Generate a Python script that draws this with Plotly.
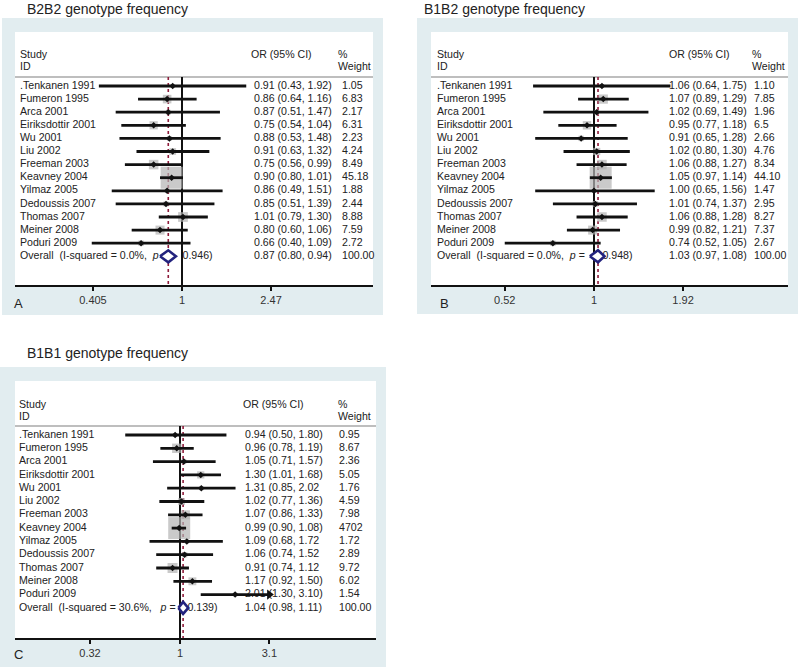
import math
import plotly.graph_objects as go

# ---------------- data ----------------
studies = [".Tenkanen 1991", "Fumeron 1995", "Arca 2001", "Eiriksdottir 2001", "Wu 2001",
           "Liu 2002", "Freeman 2003", "Keavney 2004", "Yilmaz 2005", "Dedoussis 2007",
           "Thomas 2007", "Meiner 2008", "Poduri 2009"]

NB = "\u00a0"

# Panel A: B2B2 genotype frequency
a_or = [0.91, 0.86, 0.87, 0.75, 0.88, 0.91, 0.75, 0.90, 0.86, 0.85, 1.01, 0.80, 0.66]
a_lo = [0.43, 0.64, 0.51, 0.54, 0.53, 0.63, 0.56, 0.80, 0.49, 0.51, 0.79, 0.60, 0.40]
a_hi = [1.92, 1.16, 1.47, 1.04, 1.48, 1.32, 0.99, 1.01, 1.51, 1.39, 1.30, 1.06, 1.09]
a_w = [1.05, 6.83, 2.17, 6.31, 2.23, 4.24, 8.49, 45.18, 1.88, 2.44, 8.88, 7.59, 2.72]
a_overall = [0.87, 0.80, 0.94]
a_ci_text = ["0.91 (0.43, 1.92)", "0.86 (0.64, 1.16)", "0.87 (0.51, 1.47)", "0.75 (0.54, 1.04)",
             "0.88 (0.53, 1.48)", "0.91 (0.63, 1.32)", "0.75 (0.56, 0.99)", "0.90 (0.80, 1.01)",
             "0.86 (0.49, 1.51)", "0.85 (0.51, 1.39)", "1.01 (0.79, 1.30)", "0.80 (0.60, 1.06)",
             "0.66 (0.40, 1.09)", "0.87 (0.80, 0.94)"]
a_w_text = ["1.05", "6.83", "2.17", "6.31", "2.23", "4.24", "8.49", "45.18", "1.88", "2.44",
            "8.88", "7.59", "2.72", "100.00"]
a_overall_label = ("Overall" + NB * 2 + "(I-squared = 0.0%," + NB * 2 +
                   "<i>p</i>" + NB + "=" + NB * 5 + "0.946)")
a_ticks = [0.405, 1, 2.47]
a_ticktext = ["0.405", "1", "2.47"]

# Panel B: B1B2 genotype frequency
b_or = [1.06, 1.07, 1.02, 0.95, 0.91, 1.02, 1.06, 1.05, 1.00, 1.01, 1.06, 0.99, 0.74]
b_lo = [0.64, 0.89, 0.69, 0.77, 0.65, 0.80, 0.88, 0.97, 0.65, 0.74, 0.88, 0.82, 0.52]
b_hi = [1.75, 1.29, 1.49, 1.18, 1.28, 1.30, 1.27, 1.14, 1.56, 1.37, 1.28, 1.21, 1.05]
b_w = [1.10, 7.85, 1.96, 6.5, 2.66, 4.76, 8.34, 44.10, 1.47, 2.95, 8.27, 7.37, 2.67]
b_overall = [1.03, 0.97, 1.08]
b_ci_text = ["1.06 (0.64, 1.75)", "1.07 (0.89, 1.29)", "1.02 (0.69, 1.49)", "0.95 (0.77, 1.18)",
             "0.91 (0.65, 1.28)", "1.02 (0.80, 1.30)", "1.06 (0.88, 1.27)", "1.05 (0.97, 1.14)",
             "1.00 (0.65, 1.56)", "1.01 (0.74, 1.37)", "1.06 (0.88, 1.28)", "0.99 (0.82, 1.21)",
             "0.74 (0.52, 1.05)", "1.03 (0.97, 1.08)"]
b_w_text = ["1.10", "7.85", "1.96", "6.5", "2.66", "4.76", "8.34", "44.10", "1.47", "2.95",
            "8.27", "7.37", "2.67", "100.00"]
b_overall_label = ("Overall" + NB * 2 + "(I-squared = 0.0%," + NB * 2 +
                   "<i>p</i>" + NB + "=" + NB * 6 + "0.948)")
b_ticks = [0.52, 1, 1.92]
b_ticktext = ["0.52", "1", "1.92"]

# Panel C: B1B1 genotype frequency
c_or = [0.94, 0.96, 1.05, 1.30, 1.31, 1.02, 1.07, 0.99, 1.09, 1.06, 0.91, 1.17, 2.01]
c_lo = [0.50, 0.78, 0.71, 1.01, 0.85, 0.77, 0.86, 0.90, 0.68, 0.74, 0.74, 0.92, 1.30]
c_hi = [1.80, 1.19, 1.57, 1.68, 2.02, 1.36, 1.33, 1.08, 1.72, 1.52, 1.12, 1.50, 3.10]
c_w = [0.95, 8.67, 2.36, 5.05, 1.76, 4.59, 7.98, 47.02, 1.72, 2.89, 9.72, 6.02, 1.54]
c_overall = [1.04, 0.98, 1.11]
c_ci_text = ["0.94 (0.50, 1.80)", "0.96 (0.78, 1.19)", "1.05 (0.71, 1.57)", "1.30 (1.01, 1.68)",
             "1.31 (0.85, 2.02", "1.02 (0.77, 1.36)", "1.07 (0.86, 1.33)", "0.99 (0.90, 1.08)",
             "1.09 (0.68, 1.72", "1.06 (0.74, 1.52", "0.91 (0.74, 1.12", "1.17 (0.92, 1.50)",
             "2.01 (1.30, 3.10)", "1.04 (0.98, 1.11)"]
c_w_text = ["0.95", "8.67", "2.36", "5.05", "1.76", "4.59", "7.98", "4702", "1.72", "2.89",
            "9.72", "6.02", "1.54", "100.00"]
c_overall_label = ("Overall" + NB * 2 + "(I-squared = 30.6%," + NB * 3 +
                   "<i>p</i>" + NB + "=" + NB * 4 + "0.139)")
c_ticks = [0.32, 1, 3.1]
c_ticktext = ["0.32", "1", "3.1"]

# ---------------- layout geometry (pixels) ----------------
W, H = 800, 669
FONT = "Liberation Sans, Arial, sans-serif"
TXT = "#222222"
FS = 10.6

panels = [
    dict(letter="A", title="B2B2 genotype frequency",
         orv=a_or, lo=a_lo, hi=a_hi, w=a_w, ov=a_overall, ci_text=a_ci_text, w_text=a_w_text,
         ov_label=a_overall_label, ticks=a_ticks, ticktext=a_ticktext,
         outer=(2, 18, 383, 315), inner=(15, 32, 373, 285), one=182, ppl=98.5,
         row0=86, dy=13.1, label_x=20, or_hdr_x=251, or_x=254, pct_x=338, w_x=342,
         title_xy=(25, 9), letter_xy=(12, 303), study_y=55, id_y=67, sep_y=77),
    dict(letter="B", title="B1B2 genotype frequency",
         orv=b_or, lo=b_lo, hi=b_hi, w=b_w, ov=b_overall, ci_text=b_ci_text, w_text=b_w_text,
         ov_label=b_overall_label, ticks=b_ticks, ticktext=b_ticktext,
         outer=(417, 18, 798, 314), inner=(431, 32, 788, 285), one=594, ppl=136.5,
         row0=86, dy=13.1, label_x=437, or_hdr_x=669, or_x=669, pct_x=752, w_x=754,
         title_xy=(422, 9), letter_xy=(438, 303), study_y=55, id_y=67, sep_y=77),
    dict(letter="C", title="B1B1 genotype frequency",
         orv=c_or, lo=c_lo, hi=c_hi, w=c_w, ov=c_overall, ci_text=c_ci_text, w_text=c_w_text,
         ov_label=c_overall_label, ticks=c_ticks, ticktext=c_ticktext,
         outer=(0, 367, 386, 667), inner=(15, 381, 376, 638), one=180, ppl=79.0,
         row0=435, dy=13.3, label_x=19, or_hdr_x=243, or_x=245, pct_x=338, w_x=339,
         title_xy=(25, 353), letter_xy=(12, 654), study_y=405, id_y=417, sep_y=426),
]

fig = go.Figure()
shapes = []
annotations = []
layout_axes = {}

for i, p in enumerate(panels):
    k = "" if i == 0 else str(i + 1)
    xa, ya = "x" + k, "y" + k
    one, ppl, row0, dy = p["one"], p["ppl"], p["row0"], p["dy"]

    def X(pxv, one=one, ppl=ppl):
        return math.exp((pxv - one) / ppl)

    def R(pyv, row0=row0, dy=dy):
        return 1 + (pyv - row0) / dy

    ox0, oy0, ox1, oy1 = p["outer"]
    ix0, iy0, ix1, iy1 = p["inner"]
    # backgrounds
    shapes.append(dict(type="rect", xref="paper", yref="paper", layer="below",
                       x0=ox0 / W, x1=ox1 / W, y0=1 - oy1 / H, y1=1 - oy0 / H,
                       fillcolor="#e2edf0", line=dict(width=0)))
    shapes.append(dict(type="rect", xref="paper", yref="paper", layer="below",
                       x0=ix0 / W, x1=ix1 / W, y0=1 - iy1 / H, y1=1 - iy0 / H,
                       fillcolor="white", line=dict(width=0)))
    # separator
    shapes.append(dict(type="line", xref="paper", yref="paper", layer="below",
                       x0=ix0 / W, x1=ix1 / W, y0=1 - p["sep_y"] / H, y1=1 - p["sep_y"] / H,
                       line=dict(color="#a8a8a8", width=1.5)))

    # axes
    lx0 = (ix0 - one) / ppl / math.log(10)
    lx1 = (ix1 - one) / ppl / math.log(10)
    layout_axes["xaxis" + k] = dict(
        type="log", domain=[ix0 / W, ix1 / W], range=[lx0, lx1], anchor=ya,
        showline=True, linecolor="#111", linewidth=2, ticks="outside", ticklen=4,
        tickwidth=1.5, tickcolor="#111", tickvals=p["ticks"], ticktext=p["ticktext"],
        showgrid=False, zeroline=False, fixedrange=True,
        tickfont=dict(family=FONT, size=11, color="#333"))
    layout_axes["yaxis" + k] = dict(
        domain=[1 - iy1 / H, 1 - iy0 / H], range=[R(iy1), R(iy0)], anchor=xa,
        visible=False, fixedrange=True)

    n = len(studies)
    rows = list(range(1, n + 1))
    ov_row = n + 1
    sep_r = R(p["sep_y"])
    axis_r = R(iy1)

    # ---- text (drawn first so marks overlay) ----
    tx, ty, tt = [], [], []
    for r, s in zip(rows, studies):
        tx.append(X(p["label_x"])); ty.append(r); tt.append(s)
    tx.append(X(p["label_x"])); ty.append(ov_row); tt.append(p["ov_label"])
    tx += [X(p["label_x"]), X(p["label_x"]), X(p["or_hdr_x"]), X(p["pct_x"]), X(p["pct_x"])]
    ty += [R(p["study_y"]), R(p["id_y"]), R(p["study_y"]), R(p["study_y"]), R(p["id_y"])]
    tt += ["Study", "ID", "OR (95% CI)", "%", "Weight"]
    for r, s in zip(rows + [ov_row], p["ci_text"]):
        tx.append(X(p["or_x"])); ty.append(r); tt.append(s)
    for r, s in zip(rows + [ov_row], p["w_text"]):
        tx.append(X(p["w_x"])); ty.append(r); tt.append(s)
    fig.add_trace(go.Scatter(x=tx, y=ty, text=tt, mode="text", textposition="middle right",
                             textfont=dict(family=FONT, size=FS, color=TXT),
                             cliponaxis=False, hoverinfo="skip", showlegend=False,
                             xaxis=xa, yaxis=ya))

    # ---- reference lines ----
    fig.add_trace(go.Scatter(x=[1, 1], y=[sep_r, axis_r], mode="lines",
                             line=dict(color="#111", width=2), hoverinfo="skip",
                             showlegend=False, xaxis=xa, yaxis=ya))
    fig.add_trace(go.Scatter(x=[p["ov"][0], p["ov"][0]], y=[sep_r, axis_r], mode="lines",
                             line=dict(color="#8e1b3a", width=1.6, dash="dot"),
                             hoverinfo="skip", showlegend=False, xaxis=xa, yaxis=ya))

    # ---- weight boxes ----
    wmax = max(p["w"])
    fig.add_trace(go.Scatter(x=p["orv"], y=rows, mode="markers",
                             marker=dict(symbol="square", color="#b4b4b4",
                                         size=[22 * math.sqrt(v / wmax) for v in p["w"]],
                                         line=dict(width=0)),
                             hoverinfo="skip", showlegend=False, xaxis=xa, yaxis=ya))
    # ---- CI lines ----
    cx, cy = [], []
    for r, l, h in zip(rows, p["lo"], p["hi"]):
        cx += [l, h, None]; cy += [r, r, None]
    fig.add_trace(go.Scatter(x=cx, y=cy, mode="lines", line=dict(color="#111", width=2.8),
                             hoverinfo="skip", showlegend=False, xaxis=xa, yaxis=ya))
    # arrows where the CI reaches the axis limit
    arr = [(h, r) for r, h in zip(rows, p["hi"]) if h >= p["ticks"][-1]]
    if arr:
        fig.add_trace(go.Scatter(x=[a[0] for a in arr], y=[a[1] for a in arr], mode="markers",
                                 marker=dict(symbol="triangle-right", size=9, color="#111"),
                                 hoverinfo="skip", showlegend=False, xaxis=xa, yaxis=ya))
    # ---- point estimates ----
    fig.add_trace(go.Scatter(x=p["orv"], y=rows, mode="markers",
                             marker=dict(symbol="diamond", size=5, color="#111"),
                             hoverinfo="skip", showlegend=False, xaxis=xa, yaxis=ya))
    # ---- overall diamond ----
    o, ol, oh = p["ov"]
    hh = 6.0 / dy
    fig.add_trace(go.Scatter(x=[ol, o, oh, o, ol], y=[ov_row, ov_row - hh, ov_row, ov_row + hh, ov_row],
                             mode="lines", fill="toself", fillcolor="white",
                             line=dict(color="#23237e", width=2.6),
                             hoverinfo="skip", showlegend=False, xaxis=xa, yaxis=ya))

    # titles and panel letters
    annotations.append(dict(text=p["title"], x=p["title_xy"][0] / W, y=1 - p["title_xy"][1] / H,
                            xref="paper", yref="paper", xanchor="left", yanchor="middle",
                            showarrow=False, font=dict(family=FONT, size=14, color=TXT)))
    annotations.append(dict(text=p["letter"], x=p["letter_xy"][0] / W, y=1 - p["letter_xy"][1] / H,
                            xref="paper", yref="paper", xanchor="left", yanchor="middle",
                            showarrow=False, font=dict(family=FONT, size=13, color=TXT)))

fig.update_layout(width=W, height=H, margin=dict(l=0, r=0, t=0, b=0),
                  paper_bgcolor="white", plot_bgcolor="rgba(0,0,0,0)",
                  shapes=shapes, annotations=annotations, showlegend=False,
                  **layout_axes)
fig.write_html("out.html", config={"displayModeBar": False},
               post_script="document.body.style.margin='0';")
